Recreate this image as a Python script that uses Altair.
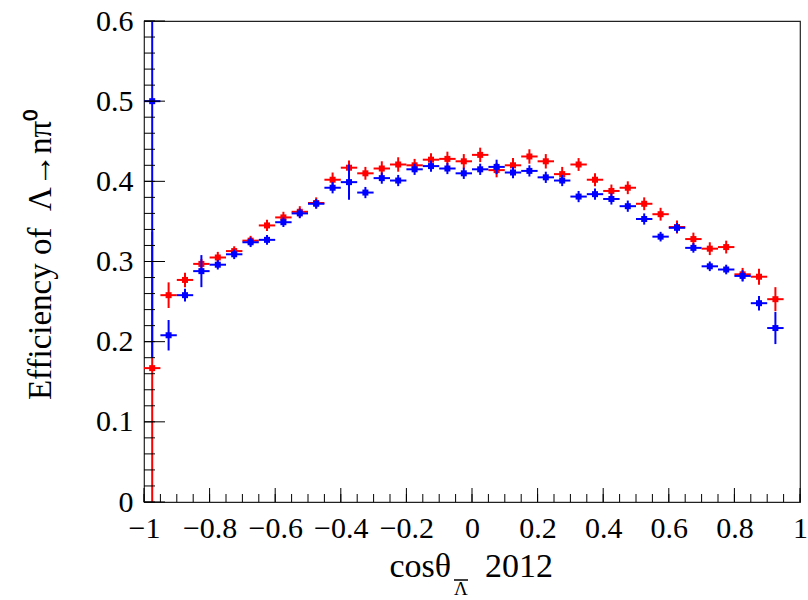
import altair as alt
import pandas as pd

# ---- data ----
centers = [-0.975, -0.925, -0.875, -0.825, -0.775, -0.725, -0.675, -0.625, -0.575, -0.525,
           -0.475, -0.425, -0.375, -0.325, -0.275, -0.225, -0.175, -0.125, -0.075, -0.025,
           0.025, 0.075, 0.125, 0.175, 0.225, 0.275, 0.325, 0.375, 0.425, 0.475,
           0.525, 0.575, 0.625, 0.675, 0.725, 0.775, 0.825, 0.875, 0.925]
half_width = 0.025

red_vals = [0.167, 0.258, 0.277, 0.297, 0.305, 0.313, 0.326, 0.345, 0.355, 0.362,
            0.373, 0.402, 0.417, 0.410, 0.416, 0.421, 0.420, 0.427, 0.428, 0.425,
            0.433, 0.414, 0.420, 0.431, 0.425, 0.409, 0.421, 0.402, 0.388, 0.392,
            0.372, 0.359, 0.343, 0.328, 0.316, 0.318, 0.284, 0.281, 0.253]
red_errs = [0.170, 0.016, 0.009, 0.006, 0.007, 0.006, 0.006, 0.007, 0.007, 0.007,
            0.007, 0.009, 0.009, 0.008, 0.009, 0.009, 0.008, 0.008, 0.009, 0.009,
            0.009, 0.009, 0.009, 0.009, 0.009, 0.009, 0.008, 0.008, 0.008, 0.008,
            0.008, 0.008, 0.008, 0.008, 0.008, 0.008, 0.008, 0.010, 0.015]

blue_vals = [0.500, 0.208, 0.258, 0.288, 0.296, 0.309, 0.324, 0.327, 0.349, 0.360,
             0.372, 0.392, 0.399, 0.386, 0.404, 0.401, 0.415, 0.419, 0.416, 0.410,
             0.415, 0.418, 0.411, 0.413, 0.405, 0.401, 0.381, 0.384, 0.378, 0.369,
             0.353, 0.331, 0.342, 0.317, 0.294, 0.290, 0.282, 0.248, 0.217]
blue_errs = [0.320, 0.019, 0.008, 0.020, 0.006, 0.006, 0.006, 0.006, 0.006, 0.006,
             0.006, 0.007, 0.022, 0.007, 0.007, 0.007, 0.007, 0.007, 0.007, 0.007,
             0.007, 0.009, 0.007, 0.007, 0.007, 0.007, 0.007, 0.007, 0.007, 0.007,
             0.007, 0.006, 0.006, 0.006, 0.006, 0.006, 0.007, 0.009, 0.020]

x_labels = [-1, -0.8, -0.6, -0.4, -0.2, 0, 0.2, 0.4, 0.6, 0.8, 1]
y_labels = [0, 0.1, 0.2, 0.3, 0.4, 0.5, 0.6]
x_minor = [round(-1 + 0.05 * i, 2) for i in range(41)]
y_minor = [round(0.02 * i, 2) for i in range(31)]

y_title = "Efficiency of\u00a0\u00a0\u039b\u2192n\u03c0\u2070"
x_title_main = "cos\u03b8"
x_title_sub = "\u039b"
x_title_year = "2012"

FONT = "Liberation Serif"
W, H = 656, 481

xs = alt.Scale(domain=[-1, 1], nice=False, zero=False)
ys = alt.Scale(domain=[0, 0.6], nice=False, zero=False)

x_axis = alt.Axis(values=x_labels, format=".1~f", title=None, grid=False, ticks=False,
                  tickSize=0, domain=False, labelFont=FONT, labelFontSize=30,
                  labelColor="black", labelPadding=11, labelFlush=False, labelOverlap=False)
y_axis = alt.Axis(values=y_labels, format=".1~f", title=y_title, grid=False, ticks=False,
                  tickSize=0, domain=False, labelFont=FONT, labelFontSize=30,
                  labelColor="black", labelPadding=11, labelFlush=False, labelOverlap=False,
                  titleFont=FONT, titleFontSize=33, titleFontWeight="normal",
                  titleColor="black", titleX=-94, titleY=233, titleAngle=270,
                  titleBaseline="alphabetic", titleAlign="center")


def series_layers(vals, errs, color):
    df = pd.DataFrame({"c": centers, "v": vals, "e": errs})
    base = alt.Chart(df).transform_calculate(
        lo="datum.v - datum.e", hi="datum.v + datum.e",
        xl=f"datum.c - {half_width}", xr=f"datum.c + {half_width}")
    vert = base.mark_rule(color=color, strokeWidth=2, clip=True).encode(
        x=alt.X("c:Q", scale=xs, axis=x_axis), y=alt.Y("lo:Q", scale=ys, axis=y_axis),
        y2="hi:Q")
    horiz = base.mark_rule(color=color, strokeWidth=2, clip=True).encode(
        x=alt.X("xl:Q", scale=xs), x2="xr:Q", y=alt.Y("v:Q", scale=ys))
    pts = base.mark_square(color=color, size=36, opacity=1, filled=True).encode(
        x=alt.X("c:Q", scale=xs), y=alt.Y("v:Q", scale=ys))
    return [vert, horiz, pts]


# tick marks drawn inside the frame (ROOT style)
xmaj = alt.Chart(pd.DataFrame({"t": x_labels})).mark_rule(color="black", strokeWidth=1).encode(
    x=alt.X("t:Q", scale=xs), y=alt.value(H), y2=alt.value(H - 14))
xmin = alt.Chart(pd.DataFrame({"t": x_minor})).mark_rule(color="black", strokeWidth=1).encode(
    x=alt.X("t:Q", scale=xs), y=alt.value(H), y2=alt.value(H - 8))
ymaj = alt.Chart(pd.DataFrame({"t": y_labels})).mark_rule(color="black", strokeWidth=1).encode(
    y=alt.Y("t:Q", scale=ys), x=alt.value(0), x2=alt.value(21))
ymin = alt.Chart(pd.DataFrame({"t": y_minor})).mark_rule(color="black", strokeWidth=1).encode(
    y=alt.Y("t:Q", scale=ys), x=alt.value(0), x2=alt.value(11))

# x-axis title pieces
one = pd.DataFrame({"k": [0]})
t_main = alt.Chart(one).mark_text(text=x_title_main, font=FONT, fontSize=34, align="right",
                                  baseline="alphabetic", color="black").encode(
    x=alt.value(307), y=alt.value(556))
t_sub = alt.Chart(one).mark_text(text=x_title_sub, font=FONT, fontSize=19, align="center",
                                 baseline="alphabetic", color="black").encode(
    x=alt.value(317), y=alt.value(574))
t_bar = alt.Chart(one).mark_rule(color="black", strokeWidth=1.5).encode(
    x=alt.value(310), x2=alt.value(324), y=alt.value(559))
t_year = alt.Chart(one).mark_text(text=x_title_year, font=FONT, fontSize=34, align="left",
                                  baseline="alphabetic", color="black").encode(
    x=alt.value(341), y=alt.value(556))

layers = series_layers(red_vals, red_errs, "#ff0000") + series_layers(blue_vals, blue_errs, "#0000ff")
layers += [xmaj, xmin, ymaj, ymin, t_main, t_sub, t_bar, t_year]

chart = alt.layer(*layers).properties(
    width=W, height=H,
    autosize=alt.AutoSizeParams(type="none"),
    padding={"left": 144, "top": 21, "right": 8, "bottom": 98},
    background="white",
).configure_view(stroke="#222222", strokeWidth=1.2)

chart.save("out.html", embed_options={"renderer": "svg", "actions": False})
